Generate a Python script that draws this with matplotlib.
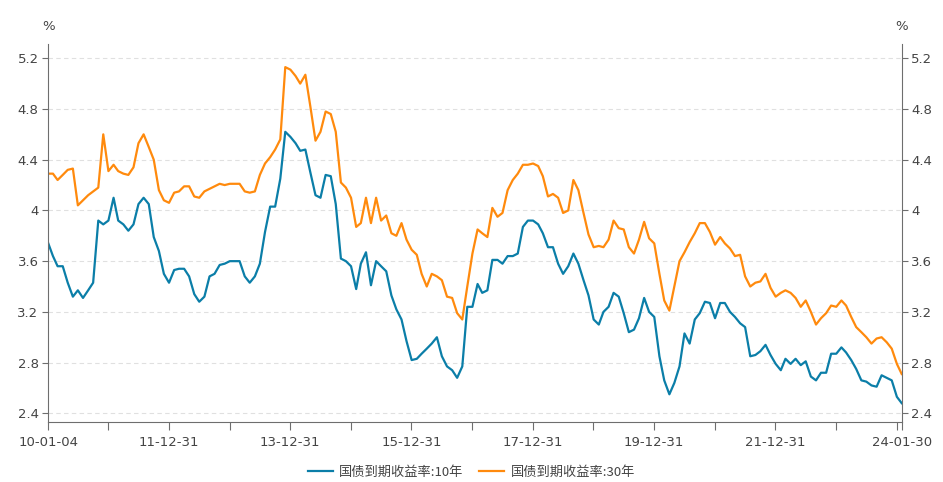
import matplotlib
matplotlib.use("Agg")
import matplotlib.pyplot as plt
import matplotlib.ticker as mticker
import pandas as pd

plt.rcParams['font.family'] = ['DejaVu Sans', 'Noto Sans CJK SC']

# monthly readings: 2010-01-04, then the 1st of each month up to 2024-01-01, then 2024-01-30
y10 = [
    3.74, 3.64, 3.56, 3.56, 3.43, 3.32, 3.37, 3.31, 3.37, 3.43, 3.92, 3.89,
    3.92, 4.10, 3.92, 3.89, 3.84, 3.89, 4.05, 4.10, 4.05, 3.79, 3.68, 3.50,
    3.43, 3.53, 3.54, 3.54, 3.48, 3.34, 3.28, 3.32, 3.48, 3.50, 3.57, 3.58,
    3.60, 3.60, 3.60, 3.48, 3.43, 3.48, 3.58, 3.83, 4.03, 4.03, 4.25, 4.62,
    4.58, 4.53, 4.47, 4.48, 4.30, 4.12, 4.10, 4.28, 4.27, 4.05, 3.62, 3.60,
    3.56, 3.38, 3.58, 3.67, 3.41, 3.60, 3.56, 3.52, 3.33, 3.22, 3.14, 2.97,
    2.82, 2.83, 2.87, 2.91, 2.95, 3.00, 2.85, 2.77, 2.74, 2.68, 2.77, 3.24,
    3.24, 3.42, 3.35, 3.37, 3.61, 3.61, 3.58, 3.64, 3.64, 3.66, 3.87, 3.92,
    3.92, 3.89, 3.82, 3.71, 3.71, 3.58, 3.50, 3.56, 3.66, 3.58, 3.45, 3.33,
    3.14, 3.10, 3.20, 3.24, 3.35, 3.32, 3.19, 3.04, 3.06, 3.15, 3.31, 3.20,
    3.16, 2.85, 2.66, 2.55, 2.64, 2.77, 3.03, 2.95, 3.14, 3.19, 3.28, 3.27,
    3.15, 3.27, 3.27, 3.20, 3.16, 3.11, 3.08, 2.85, 2.86, 2.89, 2.94, 2.86,
    2.79, 2.74, 2.83, 2.79, 2.83, 2.78, 2.81, 2.69, 2.66, 2.72, 2.72, 2.87,
    2.87, 2.92, 2.88, 2.82, 2.75, 2.66, 2.65, 2.62, 2.61, 2.70, 2.68, 2.66,
    2.53, 2.48,
]
y30 = [
    4.29, 4.29, 4.24, 4.28, 4.32, 4.33, 4.04, 4.08, 4.12, 4.15, 4.18, 4.60,
    4.31, 4.36, 4.31, 4.29, 4.28, 4.34, 4.53, 4.60, 4.50, 4.40, 4.16, 4.08,
    4.06, 4.14, 4.15, 4.19, 4.19, 4.11, 4.10, 4.15, 4.17, 4.19, 4.21, 4.20,
    4.21, 4.21, 4.21, 4.15, 4.14, 4.15, 4.28, 4.37, 4.42, 4.48, 4.56, 5.13,
    5.11, 5.06, 5.00, 5.07, 4.82, 4.55, 4.62, 4.78, 4.76, 4.62, 4.22, 4.18,
    4.10, 3.87, 3.90, 4.10, 3.90, 4.10, 3.92, 3.96, 3.82, 3.80, 3.90, 3.77,
    3.69, 3.65, 3.50, 3.40, 3.50, 3.48, 3.45, 3.32, 3.31, 3.19, 3.14, 3.40,
    3.66, 3.85, 3.82, 3.79, 4.02, 3.95, 3.98, 4.16, 4.24, 4.29, 4.36, 4.36,
    4.37, 4.35, 4.27, 4.11, 4.13, 4.10, 3.98, 4.00, 4.24, 4.16, 3.98, 3.81,
    3.71, 3.72, 3.71, 3.77, 3.92, 3.86, 3.85, 3.71, 3.66, 3.77, 3.91, 3.78,
    3.74, 3.50, 3.29, 3.21, 3.40, 3.60, 3.67, 3.75, 3.82, 3.90, 3.90, 3.83,
    3.73, 3.79, 3.74, 3.70, 3.64, 3.65, 3.48, 3.40, 3.43, 3.44, 3.50, 3.39,
    3.32, 3.35, 3.37, 3.35, 3.31, 3.24, 3.29, 3.20, 3.10, 3.15, 3.19, 3.25,
    3.24, 3.29, 3.25, 3.16, 3.08, 3.04, 3.00, 2.95, 2.99, 3.00, 2.96, 2.91,
    2.79, 2.71,
]
start, end = "2010-01-04", "2024-01-30"
names = ["国债到期收益率:10年", "国债到期收益率:30年"]
colors = ["#0b7ea8", "#ff8a0d"]
labelled_ticks = ["2011-12-31", "2013-12-31", "2015-12-31", "2017-12-31",
                  "2019-12-31", "2021-12-31"]

dates = ([pd.Timestamp(start)] + list(pd.date_range("2010-02-01", "2024-01-01", freq="MS"))
         + [pd.Timestamp(end)])

fig = plt.figure(figsize=(9.43, 4.82), dpi=100)
ax = fig.add_axes([48.3 / 943, 1 - 421.7 / 482, (901.7 - 48.3) / 943, (421.7 - 44.3) / 482])

ax.plot(dates, y10, color=colors[0], lw=1.6, label=names[0])
ax.plot(dates, y30, color=colors[1], lw=1.6, label=names[1])

ax.set_xlim(pd.Timestamp(start), pd.Timestamp(end))
ax.set_ylim(2.334, 5.31)
ax.set_yticks([2.4, 2.8, 3.2, 3.6, 4.0, 4.4, 4.8, 5.2])
ax.yaxis.set_major_formatter(mticker.FuncFormatter(lambda v, p: f"{v:g}"))
ax.grid(axis="y", color="#e0e0e0", ls=(0, (4, 3)), lw=0.8)
ax.set_axisbelow(True)

# x ticks at every year end, labels every other year
tick_dates = [pd.Timestamp(start)] + [pd.Timestamp(f"{y}-12-31") for y in range(2010, 2024)] + [pd.Timestamp(end)]
tick_labels = []
for d in tick_dates:
    s = d.strftime("%Y-%m-%d")
    if s in (start, end) or s in labelled_ticks:
        tick_labels.append(d.strftime("%y-%m-%d"))
    else:
        tick_labels.append("")
ax.set_xticks(tick_dates)
ax.set_xticklabels(tick_labels)

axis_col = "#6e6e6e"
for side in ["left", "right", "bottom"]:
    ax.spines[side].set_color(axis_col)
ax.spines["top"].set_visible(False)
ax.tick_params(axis="y", left=True, right=True, labelleft=True, labelright=True,
               length=4, width=0.8, color=axis_col, labelcolor="#444444", labelsize=9.5, pad=3)
ax.tick_params(axis="x", length=6, width=0.8, color=axis_col, labelcolor="#444444",
               labelsize=9.5, pad=4)

ax.text(0, 1 + 18 / 378, "%", transform=ax.transAxes, ha="center", va="center",
        fontsize=9.5, color="#444444")
ax.text(1, 1 + 18 / 378, "%", transform=ax.transAxes, ha="center", va="center",
        fontsize=9.5, color="#444444")

fig.legend(loc="center", bbox_to_anchor=(0.5, 1 - 472 / 482), ncol=2, frameon=False,
           handlelength=1.9, columnspacing=1.2, handletextpad=0.5,
           labelcolor="#444444", prop={"family": ["Noto Sans CJK SC", "DejaVu Sans"], "size": 9.5})

fig.savefig("out.png", dpi=100)
